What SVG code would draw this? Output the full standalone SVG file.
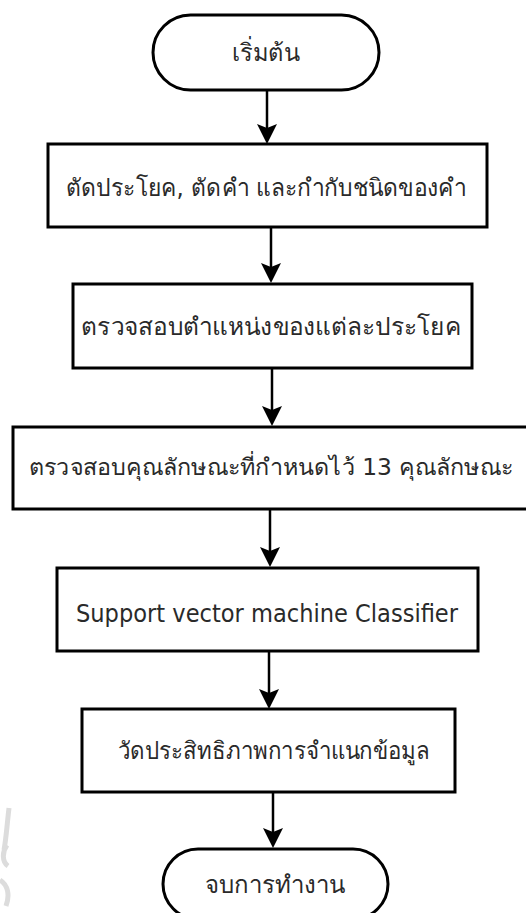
<svg xmlns="http://www.w3.org/2000/svg" width="526" height="913" viewBox="0 0 526 913">
<style>
.shape{fill:#fff;stroke:#000;stroke-width:3}
.lbl{font-family:"DejaVu Sans","Noto Sans",sans-serif;font-size:24px;fill:#2a2a2a;text-anchor:middle;dominant-baseline:central}
.conn{stroke:#000;stroke-width:2.5;fill:none}
.head{fill:#000}
.wm{fill:none;stroke:#dcdcdc;stroke-width:5}
</style>
<rect width="526" height="913" fill="#fff"/>
<path class="wm" d="M9,808 C7,825 6,840 4,850 M7,845 C2,852 2,862 8,866 M0,880 C8,885 10,895 6,906"/>
<g id="connectors">
<line class="conn" x1="267" y1="90" x2="267" y2="136"/>
<path class="head" d="M257,124 L267,128 L277,124 L267,144 Z"/>
<line class="conn" x1="271" y1="227" x2="271" y2="276"/>
<path class="head" d="M261,263 L271,267 L281,263 L271,283 Z"/>
<line class="conn" x1="272" y1="368" x2="272" y2="419"/>
<path class="head" d="M262,406 L272,410 L282,406 L272,426 Z"/>
<line class="conn" x1="270" y1="510" x2="270" y2="560"/>
<path class="head" d="M260,547 L270,551 L280,547 L270,567 Z"/>
<line class="conn" x1="269" y1="651" x2="269" y2="702"/>
<path class="head" d="M259,689 L269,693 L279,689 L269,709 Z"/>
<line class="conn" x1="273" y1="792" x2="273" y2="841"/>
<path class="head" d="M263,828 L273,832 L283,828 L273,848 Z"/>
</g>
<g id="start">
<rect class="shape" x="153" y="15" width="226" height="75" rx="37.5"/>
<text class="lbl" x="266" y="53" textLength="68" lengthAdjust="spacingAndGlyphs">เริ่มต้น</text>
</g>
<g id="step1">
<rect class="shape" x="48" y="144" width="439" height="83"/>
<text class="lbl" x="266" y="188" textLength="400" lengthAdjust="spacingAndGlyphs">ตัดประโยค, ตัดคำ และกำกับชนิดของคำ</text>
</g>
<g id="step2">
<rect class="shape" x="73" y="284" width="399" height="84"/>
<text class="lbl" x="271" y="327" textLength="380" lengthAdjust="spacingAndGlyphs">ตรวจสอบตำแหน่งของแต่ละประโยค</text>
</g>
<g id="step3">
<rect class="shape" x="13" y="427" width="518" height="82"/>
<text class="lbl" x="271" y="467" style="font-size:23px" textLength="484" lengthAdjust="spacingAndGlyphs">ตรวจสอบคุณลักษณะที่กำหนดไว้ 13 คุณลักษณะ</text>
</g>
<g id="step4">
<rect class="shape" x="57" y="568" width="421" height="83"/>
<text class="lbl" x="267" y="614" textLength="382" lengthAdjust="spacingAndGlyphs">Support vector machine Classifier</text>
</g>
<g id="step5">
<rect class="shape" x="82" y="709" width="373" height="83"/>
<text class="lbl" x="274" y="751" textLength="312" lengthAdjust="spacingAndGlyphs">วัดประสิทธิภาพการจำแนกข้อมูล</text>
</g>
<g id="end">
<rect class="shape" x="163" y="849" width="225" height="70" rx="35"/>
<text class="lbl" x="275" y="885" textLength="140" lengthAdjust="spacingAndGlyphs">จบการทำงาน</text>
</g>
</svg>
